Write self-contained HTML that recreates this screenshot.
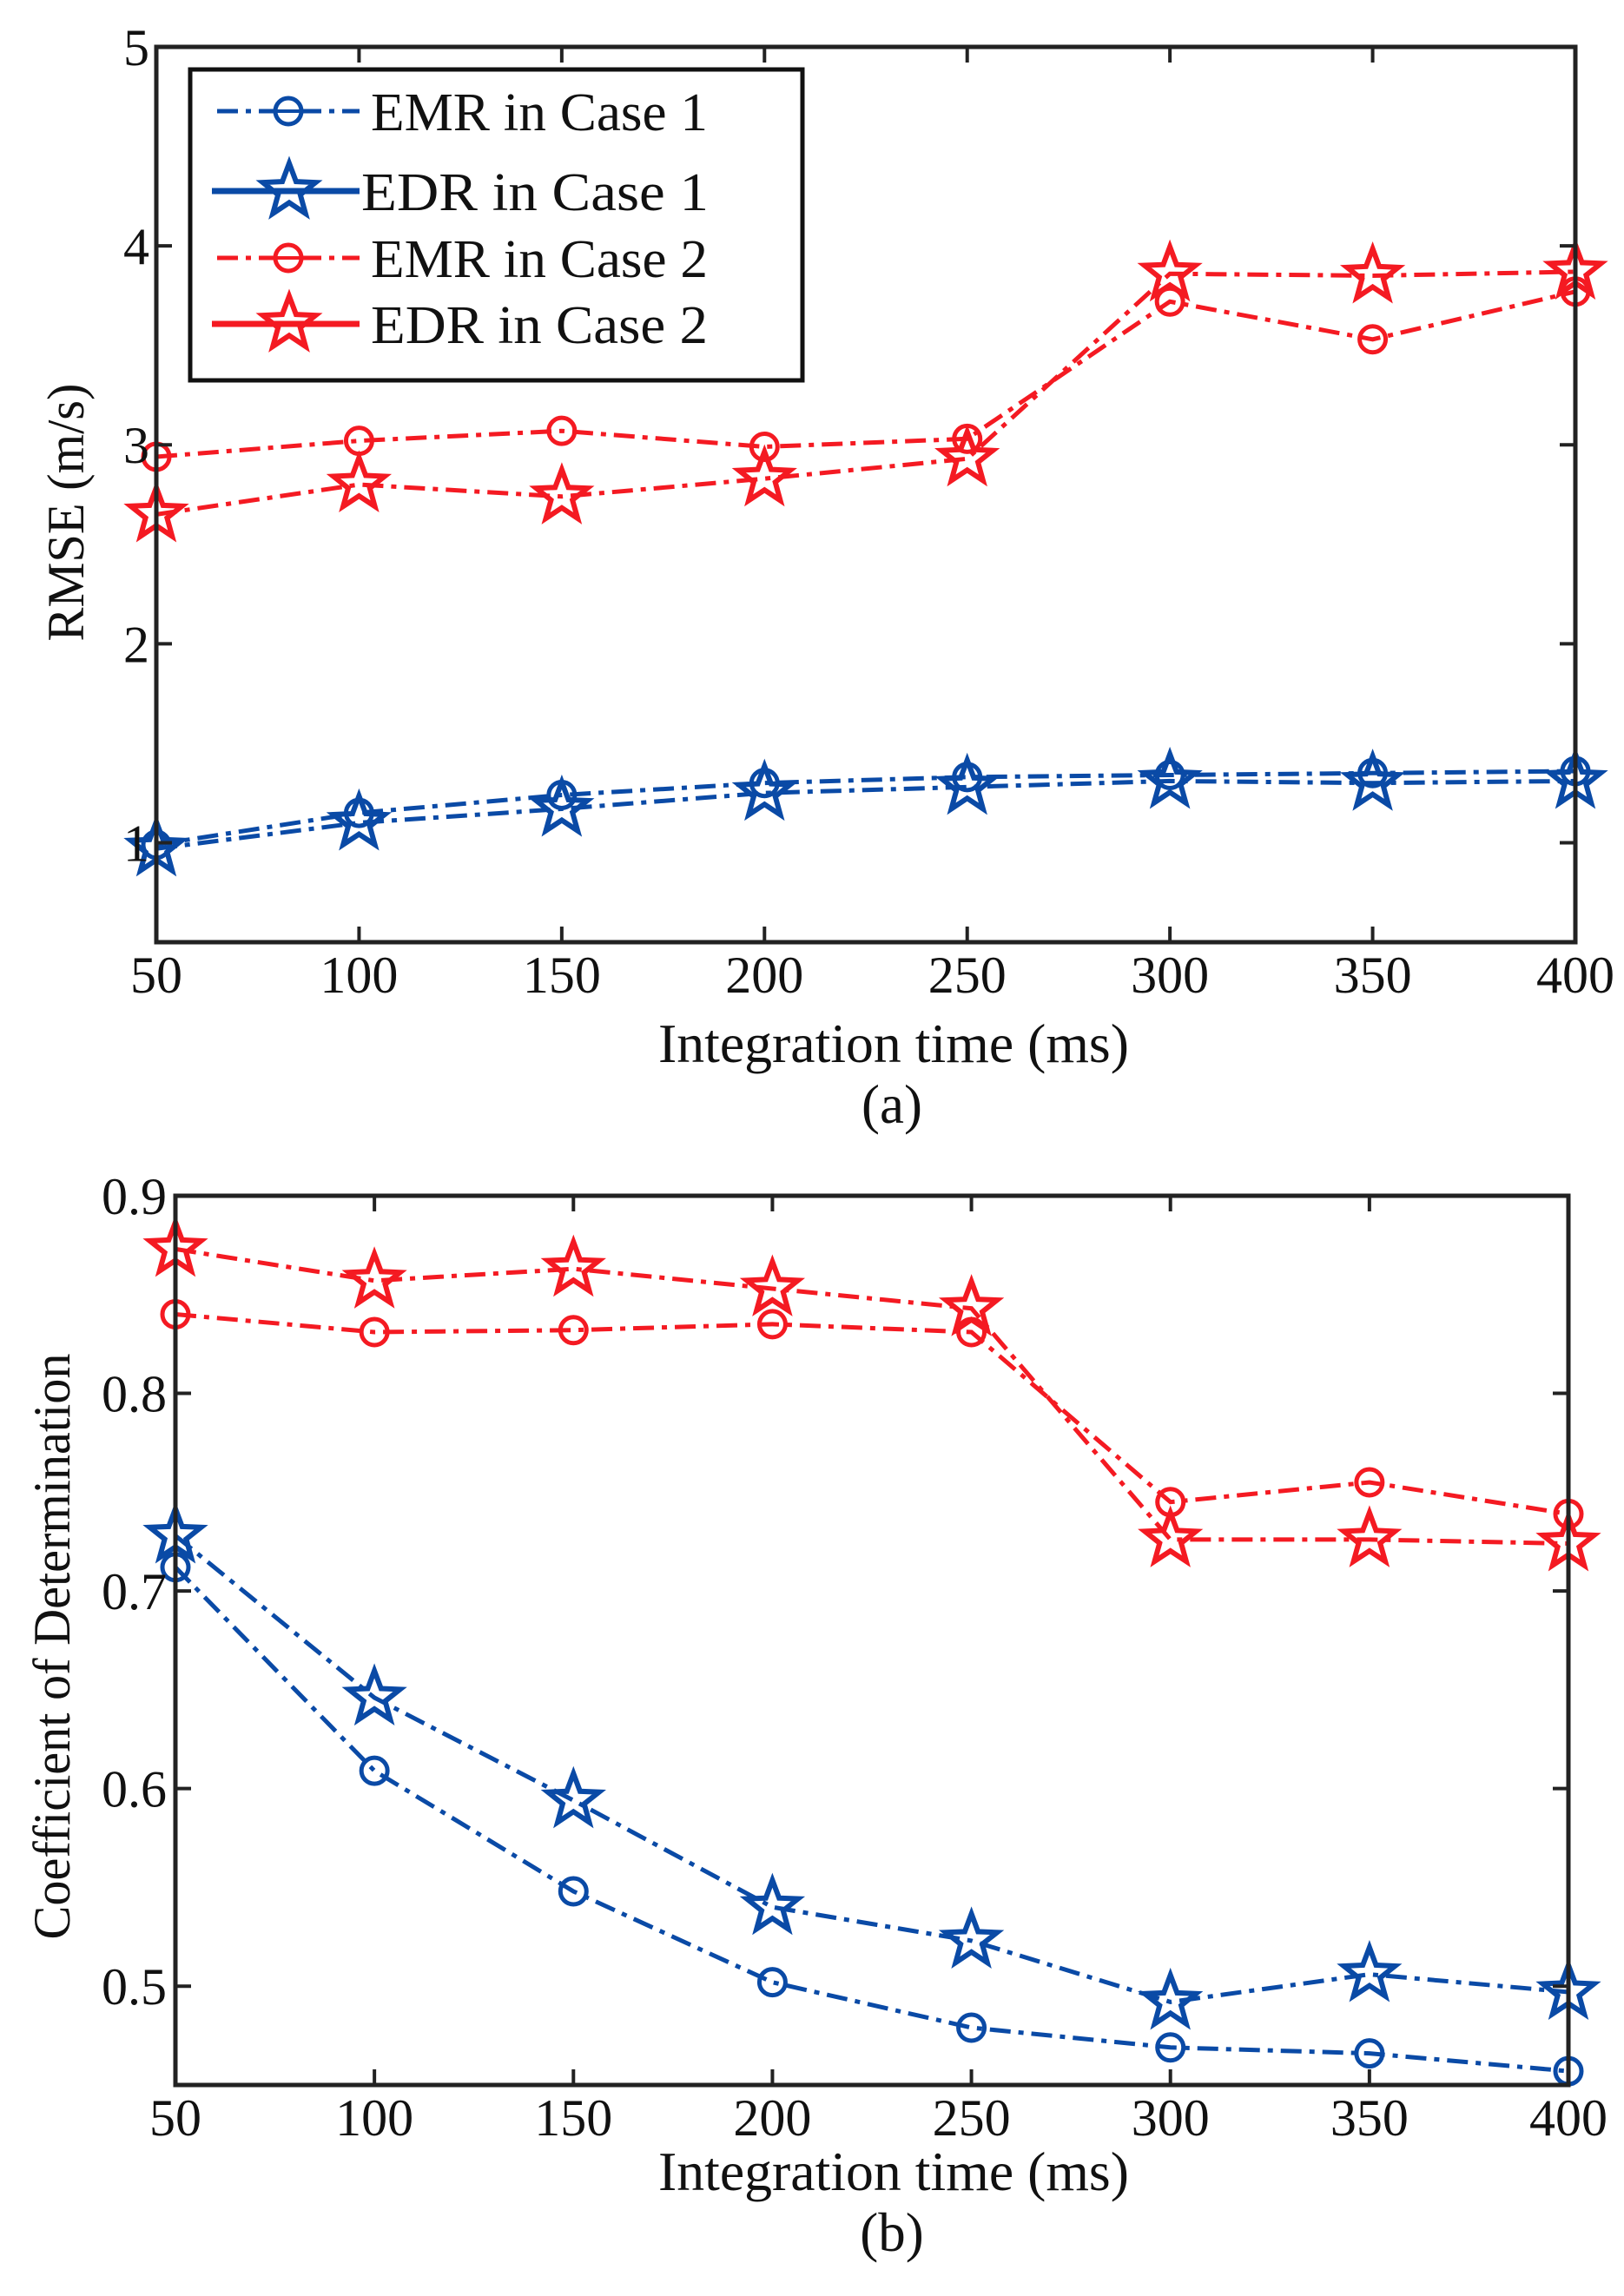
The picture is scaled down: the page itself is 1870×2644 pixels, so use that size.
<!DOCTYPE html>
<html><head><meta charset="utf-8"><style>
html,body{margin:0;padding:0;background:#fff;}
svg{display:block;}
text{font-family:"Liberation Serif",serif;fill:#111;}
</style></head><body>
<svg id="root" width="1870" height="2644" viewBox="0 0 1870 2644" xmlns="http://www.w3.org/2000/svg">
<g id="chartA"></g>
<g id="chartB"></g>
</svg>
<script>
const xTimes = [50,100,150,200,250,300,350,400];
const xTickLabels = ["50","100","150","200","250","300","350","400"];
// Chart (a) RMSE
const rmseEMR1 = [0.99,1.15,1.24,1.30,1.33,1.34,1.35,1.36];
const rmseEDR1 = [0.97,1.10,1.17,1.25,1.28,1.31,1.30,1.31];
const rmseEMR2 = [2.94,3.02,3.07,2.99,3.03,3.72,3.53,3.77];
const rmseEDR2 = [2.65,2.80,2.74,2.83,2.93,3.86,3.85,3.87];
const rmseTicks = [1,2,3,4,5];
const rmseTickLabels = ["1","2","3","4","5"];
// Chart (b) Coefficient of determination
const r2EMR2 = [0.840,0.831,0.832,0.835,0.831,0.745,0.755,0.739];
const r2EDR2 = [0.873,0.857,0.863,0.853,0.843,0.726,0.726,0.724];
const r2EDR1 = [0.728,0.646,0.594,0.540,0.523,0.492,0.506,0.497];
const r2EMR1 = [0.712,0.609,0.548,0.502,0.479,0.469,0.466,0.457];
const r2Ticks = [0.5,0.6,0.7,0.8,0.9];
const r2TickLabels = ["0.5","0.6","0.7","0.8","0.9"];

const NS="http://www.w3.org/2000/svg";
const BLUE="#0a4aa6", RED="#f41a22";
function mk(tag, parent, attrs){const e=document.createElementNS(NS,tag);for(const k in attrs)e.setAttribute(k,attrs[k]);parent.appendChild(e);return e;}
function starPts(cx,cy,R){const r=R*0.42;let p=[];for(let i=0;i<10;i++){const a=-Math.PI/2+i*Math.PI/5;const rr=i%2?r:R;p.push((cx+rr*Math.cos(a)).toFixed(1)+","+(cy+rr*Math.sin(a)).toFixed(1));}return p.join(" ");}

function drawChart(g, cfg){
  const xs=v=>cfg.L+(v-50)/350*(cfg.R-cfg.L);
  const ys=v=>cfg.B-(v-cfg.ymin)/(cfg.ymax-cfg.ymin)*(cfg.B-cfg.T);
  // series
  cfg.series.forEach(s=>{
    const sg=mk('g',g,{});
    
    
    const pts=s.vals.map((v,i)=>xs(xTimes[i]).toFixed(1)+","+ys(v).toFixed(1)).join(" ");
    const line=mk('polyline',sg,{points:pts,fill:'none',stroke:s.color,'stroke-width':5,'stroke-dasharray':'24 9 6 9'});
    
    
    s.vals.forEach((v,i)=>{
      let m;
      if(s.marker==='circle') m=mk('circle',sg,{cx:xs(xTimes[i]),cy:ys(v),r:15,fill:'none',stroke:s.color,'stroke-width':5});
      else m=mk('polygon',sg,{points:starPts(xs(xTimes[i]),ys(v),31),fill:'none',stroke:s.color,'stroke-width':6,'stroke-linejoin':'miter'});
      
      
    });
  });
  // axes box
  const box=mk('rect',g,{x:cfg.L,y:cfg.T,width:cfg.R-cfg.L,height:cfg.B-cfg.T,fill:'none',stroke:'#222','stroke-width':5});
  
  
  // x ticks
  xTimes.forEach((t,i)=>{
    const x=xs(t);
    mk('line',g,{x1:x,x2:x,y1:cfg.B,y2:cfg.B-18,stroke:'#222','stroke-width':4});
    mk('line',g,{x1:x,x2:x,y1:cfg.T,y2:cfg.T+18,stroke:'#222','stroke-width':4});
    const tx=mk('text',g,{x:x,y:cfg.B+58,'text-anchor':'middle','font-size':60});
    tx.textContent=xTickLabels[i];
    
    
  });
  cfg.yt.forEach((t,i)=>{
    const y=ys(t);
    mk('line',g,{x1:cfg.L,x2:cfg.L+18,y1:y,y2:y,stroke:'#222','stroke-width':4});
    mk('line',g,{x1:cfg.R,x2:cfg.R-18,y1:y,y2:y,stroke:'#222','stroke-width':4});
    const tx=mk('text',g,{x:cfg.tickX,y:y+21,'text-anchor':'end','font-size':60});
    tx.textContent=cfg.ytl[i];
    
    
  });
  const xl=mk('text',g,{x:1029,y:cfg.xlY,'text-anchor':'middle','font-size':63,textLength:542,lengthAdjust:'spacingAndGlyphs'});
  xl.textContent='Integration time (ms)';
  
  
  const cap=mk('text',g,{x:1027,y:cfg.capY,'text-anchor':'middle','font-size':63});
  cap.textContent=cfg.cap;
  
  
  const yl=mk('text',g,{x:0,y:0,'text-anchor':'middle','font-size':60,textLength:cfg.ylW,lengthAdjust:'spacingAndGlyphs',transform:`translate(${cfg.ylX},${cfg.ylC}) rotate(-90)`});
  yl.textContent=cfg.ylabel;
  
  
}

drawChart(document.getElementById('chartA'),{
  L:180,R:1814,T:54,B:1085,ymin:0.5,ymax:5,yt:rmseTicks,ytl:rmseTickLabels,tickX:172,
  xlY:1223,capY:1293,cap:'(a)',ylabel:'RMSE (m/s)',ylX:96,ylC:590,ylW:297,
  series:[
    {name:'emr-case2',vals:rmseEMR2,color:RED,marker:'circle'},
    {name:'edr-case2',vals:rmseEDR2,color:RED,marker:'star'},
    {name:'emr-case1',vals:rmseEMR1,color:BLUE,marker:'circle'},
    {name:'edr-case1',vals:rmseEDR1,color:BLUE,marker:'star'}
  ]});
drawChart(document.getElementById('chartB'),{
  L:202,R:1806,T:1377,B:2401,ymin:0.45,ymax:0.9,yt:r2Ticks,ytl:r2TickLabels,tickX:192,
  xlY:2522,capY:2592,cap:'(b)',ylabel:'Coefficient of Determination',ylX:80,ylC:1896,ylW:675,
  series:[
    {name:'emr-case2',vals:r2EMR2,color:RED,marker:'circle'},
    {name:'edr-case2',vals:r2EDR2,color:RED,marker:'star'},
    {name:'emr-case1',vals:r2EMR1,color:BLUE,marker:'circle'},
    {name:'edr-case1',vals:r2EDR1,color:BLUE,marker:'star'}
  ]});

// legend for chart (a)
const gA=document.getElementById('chartA');
const lg=mk('g',gA,{});


mk('rect',lg,{x:219,y:80,width:705,height:358,fill:'#fff',stroke:'#111','stroke-width':5});
const legendLabels=["EMR in Case 1","EDR in Case 1","EMR in Case 2","EDR in Case 2"];
const legendColors=[BLUE,BLUE,RED,RED];
const legendMarkers=['circle','star','circle','star'];
const legendY=[128,220,297,373];
legendLabels.forEach((lab,i)=>{
  const e=mk('g',lg,{});
  
  
  const y=legendY[i], c=legendColors[i];
  if(legendMarkers[i]==='circle'){
    mk('line',e,{x1:250,x2:414,y1:y,y2:y,stroke:c,'stroke-width':5,'stroke-dasharray':'24 9 6 9'});
    mk('circle',e,{cx:332,cy:y,r:15,fill:'#fff',stroke:c,'stroke-width':5});
    mk('line',e,{x1:317,x2:347,y1:y,y2:y,stroke:c,'stroke-width':4});
  } else {
    mk('line',e,{x1:244,x2:414,y1:y,y2:y,stroke:c,'stroke-width':7});
    mk('polygon',e,{points:starPts(333,y,32),fill:'none',stroke:c,'stroke-width':6});
  }
  const t=mk('text',e,{x:i===1?416:427,y:y+22,'font-size':62,textLength:i===1?400:388,lengthAdjust:'spacingAndGlyphs'});
  t.textContent=lab;
  
  
});
</script>
</body></html>
